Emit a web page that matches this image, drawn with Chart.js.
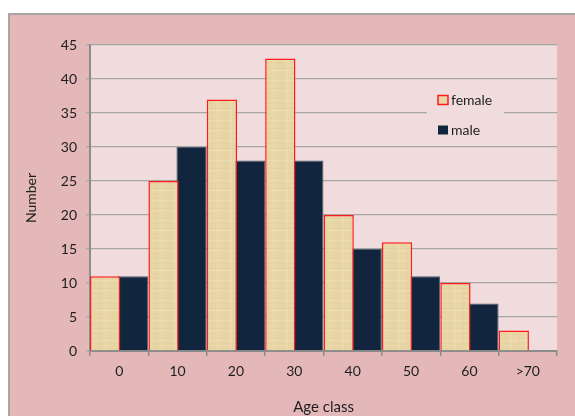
<!DOCTYPE html>
<html>
<head>
<meta charset="utf-8">
<script src="https://cdn.jsdelivr.net/npm/chart.js@4/dist/chart.umd.min.js"></script>
<style>
  html, body { margin: 0; padding: 0; background: #fff; overflow: hidden; }
  #box {
    position: absolute; left: 8px; top: 13px; width: 567px; height: 403px;
    background: #e4b8b8; border-top: 2px solid #a6a6a6; border-left: 2px solid #a6a6a6;
  }
  canvas { display: block; }
</style>
</head>
<body>
<div id="box"><canvas id="chart" width="565" height="401"></canvas></div>
<script>
const ageClasses = ['0', '10', '20', '30', '40', '50', '60', '>70']
const female = [11, 25, 37, 43, 20, 16, 10, 3]
const male = [11, 30, 28, 28, 15, 11, 7, null]
const yTicks = [0, 5, 10, 15, 20, 25, 30, 35, 40, 45]

const FONT = 'Lato, "Open Sans", sans-serif'
const TEXT = '#1e1e1e'

// papyrus-like fill for the female bars
function papyrus(ctx) {
  const c = document.createElement('canvas')
  c.width = 14
  c.height = 10
  const p = c.getContext('2d')
  p.fillStyle = '#e9d6a7'
  p.fillRect(0, 0, 14, 10)
  p.fillStyle = 'rgba(200,170,110,0.09)'
  p.fillRect(0, 3, 14, 1)
  p.fillRect(0, 8, 9, 1)
  p.fillRect(5, 0, 1, 10)
  p.fillStyle = 'rgba(255,248,225,0.18)'
  p.fillRect(0, 5, 14, 1)
  p.fillRect(11, 0, 1, 10)
  return ctx.createPattern(c, 'repeat')
}

const plotBg = {
  id: 'plotBg',
  beforeDraw(chart) {
    const { ctx, chartArea: a } = chart
    ctx.save()
    ctx.fillStyle = '#f0dcdc'
    ctx.fillRect(a.left, a.top, a.right - a.left, a.bottom - a.top)
    ctx.restore()
  },
}

const insideLegend = {
  id: 'insideLegend',
  afterDraw(chart) {
    const { ctx, chartArea: a } = chart
    const x = a.left + 337
    ctx.save()
    ctx.fillStyle = '#f0dcdc'
    ctx.fillRect(x, a.top + 40, 77, 55)
    ctx.font = '14px ' + FONT
    ctx.textBaseline = 'middle'
    chart.data.datasets.forEach((ds, i) => {
      const y = a.top + 55 + i * 30
      ctx.fillStyle = ds.legendFill
      ctx.fillRect(x + 11, y - 4.5, 10, 9)
      if (ds.legendStroke) {
        ctx.strokeStyle = ds.legendStroke
        ctx.lineWidth = 1.5
        ctx.strokeRect(x + 11, y - 4.5, 10, 9)
      }
      ctx.fillStyle = TEXT
      ctx.fillText(ds.label, x + 24, y)
    })
    ctx.restore()
  },
}

const canvas = document.getElementById('chart')
const tex = papyrus(canvas.getContext('2d'))

new Chart(canvas, {
  type: 'bar',
  data: {
    labels: ageClasses,
    datasets: [
      {
        label: 'female',
        data: female,
        backgroundColor: tex,
        borderColor: '#ff1a1a',
        borderWidth: 1.5,
        borderSkipped: 'bottom',
        legendFill: '#e9d6a7',
        legendStroke: '#ff1a1a',
      },
      {
        label: 'male',
        data: male,
        backgroundColor: '#12253f',
        borderColor: '#4d5a6a',
        borderWidth: 1,
        borderSkipped: 'bottom',
        legendFill: '#12253f',
      },
    ],
  },
  options: {
    responsive: false,
    animation: false,
    categoryPercentage: 0.96,
    barPercentage: 1.08,
    layout: { padding: { top: 30, right: 18, left: 0, bottom: 0 } },
    plugins: {
      legend: { display: false },
      tooltip: { enabled: false },
    },
    scales: {
      x: {
        afterFit: (s) => { s.height = 65 },
        grid: { drawOnChartArea: false, tickLength: 5, color: '#8c8c8c', lineWidth: 1.5 },
        border: { color: '#8c8c8c', width: 2 },
        ticks: { color: TEXT, font: { family: FONT, size: 14 }, padding: 7 },
        title: {
          display: true,
          text: 'Age class',
          color: TEXT,
          font: { family: FONT, size: 15 },
          padding: { top: 0, bottom: 0 },
        },
      },
      y: {
        min: 0,
        max: 45,
        afterFit: (s) => { s.width = 80 },
        afterBuildTicks: (s) => { s.ticks = yTicks.map((v) => ({ value: v })) },
        grid: { color: '#a6a6a6', lineWidth: 1.3, tickLength: 4 },
        border: { color: '#8c8c8c', width: 2 },
        ticks: { color: TEXT, font: { family: FONT, size: 14 }, padding: 9 },
        title: {
          display: true,
          text: 'Number',
          color: TEXT,
          font: { family: FONT, size: 14 },
          padding: { top: 13, bottom: 0 },
        },
      },
    },
  },
  plugins: [plotBg, insideLegend],
})
</script>
</body>
</html>
